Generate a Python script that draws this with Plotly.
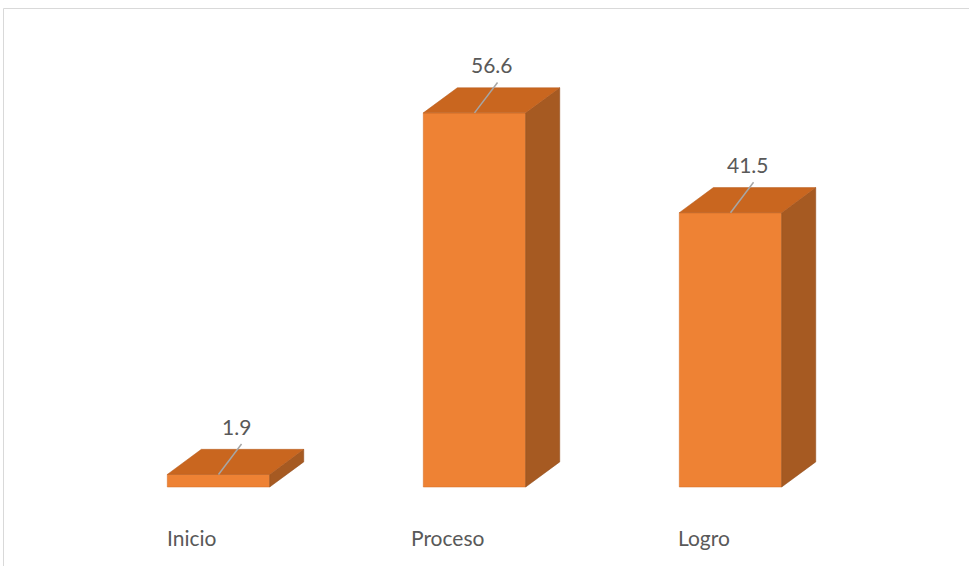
import plotly.graph_objects as go


# =====================================
# DATA
# =====================================

categories = ["Inicio", "Proceso", "Logro"]

values = [1.9, 56.6, 41.5]


# =====================================
# 3D LOOK SETTINGS
# =====================================

bar_width = 0.40
depth_x = 0.133
depth_y = 3.8

front_color = "#EE8234"
top_color = "#C9661F"
side_color = "#A65A22"
text_color = "#595959"
font_name = "Lato"

positions = list(range(len(categories)))


fig = go.Figure()

# side and top faces first
for pos, val in zip(positions, values):

    left = pos - bar_width / 2
    right = pos + bar_width / 2

    fig.add_trace(go.Scatter(
        x=[right, right + depth_x, right + depth_x, right, right],
        y=[0, depth_y, val + depth_y, val, 0],
        fill="toself",
        fillcolor=side_color,
        mode="lines",
        line=dict(color="#8E4A1A", width=0.5),
        hoverinfo="skip",
        showlegend=False
    ))

    fig.add_trace(go.Scatter(
        x=[left, left + depth_x, right + depth_x, right, left],
        y=[val, val + depth_y, val + depth_y, val, val],
        fill="toself",
        fillcolor=top_color,
        mode="lines",
        line=dict(color="#B55A1C", width=0.5),
        hoverinfo="skip",
        showlegend=False
    ))

# front faces
fig.add_trace(go.Bar(
    x=positions,
    y=values,
    width=bar_width,
    marker=dict(
        color=front_color,
        line=dict(color="#D06A22", width=0.5)
    ),
    hoverinfo="skip",
    showlegend=False
))

# leader lines to the value labels
for pos, val in zip(positions, values):

    fig.add_trace(go.Scatter(
        x=[pos, pos + 0.09],
        y=[val, val + 4.6],
        mode="lines",
        line=dict(color="#A6A6A6", width=1.5),
        hoverinfo="skip",
        showlegend=False
    ))

    fig.add_annotation(
        x=pos + 0.07,
        y=val + 7.3,
        text=str(val),
        showarrow=False,
        font=dict(family=font_name, size=21, color=text_color),
        xanchor="center",
        yanchor="middle"
    )

# category labels
for pos, cat in zip(positions, categories):

    fig.add_annotation(
        x=pos - 0.102,
        y=-7.7,
        text=cat,
        showarrow=False,
        font=dict(family=font_name, size=21, color=text_color),
        xanchor="center",
        yanchor="middle"
    )

# outer frame
fig.add_shape(
    type="rect",
    xref="paper",
    yref="paper",
    x0=3.5 / 969,
    x1=1.05,
    y0=-0.05,
    y1=1 - 8.5 / 566,
    line=dict(color="#D9D9D9", width=1),
    fillcolor="rgba(0,0,0,0)"
)

fig.update_layout(
    width=969,
    height=566,
    margin=dict(l=0, r=0, t=0, b=0),
    paper_bgcolor="white",
    plot_bgcolor="white",
    xaxis=dict(
        range=[-218.5 / 256, (969 - 218.5) / 256],
        visible=False,
        fixedrange=True
    ),
    yaxis=dict(
        range=[-(566 - 487) / 6.61, 487 / 6.61],
        visible=False,
        fixedrange=True
    )
)

fig.write_html(
    "out.html",
    config={"displayModeBar": False},
    post_script="document.body.style.margin='0';document.body.style.overflow='hidden';"
)
